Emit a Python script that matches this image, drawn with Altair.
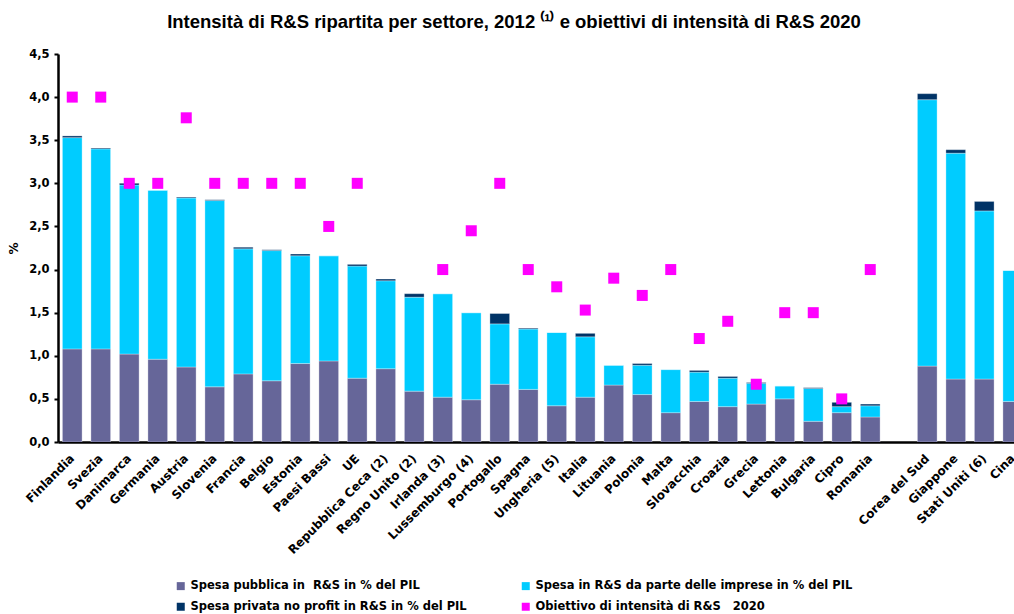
import altair as alt
import pandas as pd

# Paesi in ordine di intensità di R&S (UE + extra-UE separati da uno spazio vuoto)
paesi = ["Finlandia", "Svezia", "Danimarca", "Germania", "Austria", "Slovenia",
         "Francia", "Belgio", "Estonia", "Paesi Bassi", "UE", "Repubblica Ceca (2)",
         "Regno Unito (2)", "Irlanda (3)", "Lussemburgo (4)", "Portogallo", "Spagna",
         "Ungheria (5)", "Italia", "Lituania", "Polonia", "Malta", "Slovacchia",
         "Croazia", "Grecia", "Lettonia", "Bulgaria", "Cipro", "Romania",
         "Corea del Sud", "Giappone", "Stati Uniti (6)", "Cina"]

# Spesa in R&S in % del PIL, 2012
spesa_pubblica = [1.08, 1.08, 1.02, 0.96, 0.87, 0.64, 0.79, 0.71, 0.91, 0.94, 0.74, 0.85,
                  0.59, 0.52, 0.49, 0.67, 0.61, 0.42, 0.52, 0.66, 0.55, 0.34, 0.47,
                  0.41, 0.44, 0.50, 0.24, 0.34, 0.29, 0.88, 0.73, 0.73, 0.47]
spesa_imprese = [2.45, 2.32, 1.96, 1.96, 1.96, 2.16, 1.45, 1.51, 1.25, 1.22, 1.30, 1.02,
                 1.09, 1.20, 1.01, 0.70, 0.70, 0.85, 0.70, 0.23, 0.34, 0.50, 0.34,
                 0.33, 0.24, 0.15, 0.38, 0.07, 0.13, 3.09, 2.62, 1.95, 1.52]
spesa_no_profit = [0.02, 0.01, 0.02, 0.00, 0.01, 0.01, 0.02, 0.01, 0.02, 0.00, 0.02, 0.02,
                   0.04, 0.00, 0.00, 0.12, 0.01, 0.00, 0.04, 0.00, 0.02, 0.00, 0.02,
                   0.02, 0.01, 0.00, 0.01, 0.05, 0.02, 0.07, 0.04, 0.11, 0.00]
# Obiettivi nazionali 2020 (None = nessun obiettivo)
obiettivo_2020 = [4.0, 4.0, 3.0, 3.0, 3.76, 3.0, 3.0, 3.0, 3.0, 2.5, 3.0, None,
                  None, 2.0, 2.45, 3.0, 2.0, 1.8, 1.53, 1.9, 1.7, 2.0, 1.2,
                  1.4, 0.67, 1.5, 1.5, 0.5, 2.0, None, None, None, None]

PUBBLICA = "Spesa pubblica in\u00a0 R&S in % del PIL"
IMPRESE = "Spesa in R&S da parte delle imprese in % del PIL"
NO_PROFIT = "Spesa privata no profit in R&S in % del PIL"
OBIETTIVO = "Obiettivo di intensità di R&S\u00a0\u00a0 2020"

# ordine della legenda (riempita per colonne): pubblica/no profit a sinistra
serie_legenda = [PUBBLICA, NO_PROFIT, IMPRESE, OBIETTIVO]
colori_legenda = ["#666699", "#003366", "#00CCFF", "#FF00FF"]

# asse x: spazio vuoto tra Romania e Corea del Sud
dominio_x = paesi[:29] + [" "] + paesi[29:]

righe = []
for i, p in enumerate(paesi):
    for k, (nome, valori) in enumerate([(PUBBLICA, spesa_pubblica),
                                        (IMPRESE, spesa_imprese),
                                        (NO_PROFIT, spesa_no_profit)]):
        righe.append({"paese": p, "serie": nome, "valore": valori[i], "ordine": k})
barre_df = pd.DataFrame(righe)

obiettivi_df = pd.DataFrame([
    {"paese": p, "serie": OBIETTIVO, "valore": v}
    for p, v in zip(paesi, obiettivo_2020) if v is not None
])

FONT = "DejaVu Sans"

x_scale = alt.Scale(domain=dominio_x, range=[0, 969], paddingInner=0.31, paddingOuter=0.155)
y_scale = alt.Scale(domain=[0, 4.5], nice=False)
colore = alt.Color(
    "serie:N",
    scale=alt.Scale(domain=serie_legenda, range=colori_legenda),
    legend=alt.Legend(
        title=None, orient="none", legendX=117, legendY=526, columns=2,
        columnPadding=53, rowPadding=8, symbolType="square", symbolSize=64,
        symbolStrokeWidth=0, labelFont=FONT, labelFontSize=11.5, labelFontWeight="bold",
        labelColor="black", labelOffset=4, labelLimit=400, padding=0,
    ),
)

asse_x = alt.Axis(
    title=None, labelAngle=-45, labelAlign="right", labelBaseline="middle",
    labelPadding=14, labelFont=FONT, labelFontSize=12, labelFontWeight="bold",
    labelColor="black", ticks=False, grid=False, domainColor="black",
    domainWidth=2.5, labelOverlap=False, labelLimit=300,
)
asse_y = alt.Axis(
    title="%", titleFont=FONT, titleFontSize=12, titleFontWeight="bold",
    titleColor="black", titleX=-38, titleY=194, titleAngle=-90,
    values=[0, 0.5, 1, 1.5, 2, 2.5, 3, 3.5, 4, 4.5],
    labelExpr="replace(format(datum.value, '.1f'), '.', ',')",
    labelFont=FONT, labelFontSize=11.5, labelFontWeight="bold", labelColor="black",
    labelPadding=5, tickColor="black", tickSize=4, tickWidth=2,
    domainColor="black", domainWidth=2.5, gridColor="white", gridWidth=1.5,
)

barre = alt.Chart(barre_df).mark_bar(
    clip=True, stroke="white", strokeOpacity=0.3, strokeWidth=1
).encode(
    x=alt.X("paese:N", scale=x_scale, axis=asse_x, sort=dominio_x),
    y=alt.Y("sum(valore):Q", scale=y_scale, axis=asse_y, stack="zero"),
    color=colore,
    order=alt.Order("ordine:Q", sort="ascending"),
)

quadrati = alt.Chart(obiettivi_df).mark_square(size=121, opacity=1).encode(
    x=alt.X("paese:N", scale=x_scale, sort=dominio_x),
    y=alt.Y("valore:Q", scale=y_scale),
    color=colore,
)

chart = alt.layer(barre, quadrati).properties(
    width=956, height=388,
    autosize=alt.AutoSizeParams(type="none"),
    padding={"left": 58, "top": 54, "right": 0, "bottom": 172},
    title=alt.TitleParams(
        text="Intensità di R&S ripartita per settore, 2012 \u207d\u00b9\u207e e obiettivi di intensità di R&S 2020",
        font="Liberation Sans", fontSize=18.5, fontWeight="bold", color="black",
        anchor="middle", frame="group", dx=-22, offset=17,
    ),
).configure_view(
    fill="#E8E8E8", stroke=None
).configure(background="white")

chart.save("out.html", embed_options={"renderer": "svg", "actions": False})
